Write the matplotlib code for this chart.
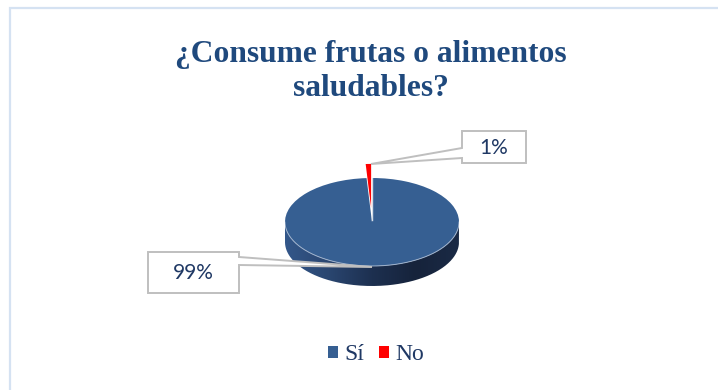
import numpy as np
import matplotlib.pyplot as plt
from matplotlib.patches import Polygon, PathPatch
from matplotlib.path import Path
from matplotlib.colors import LinearSegmentedColormap

# data
labels = ['Sí', 'No']
values = [99, 1]
colors = ['#365f92', '#ff0000']
title_lines = ['¿Consume frutas o alimentos', 'saludables?']

W, H = 718, 390
fig = plt.figure(figsize=(W / 100, H / 100), dpi=100)

# background axes in pixel coords (y down)
bg = fig.add_axes([0, 0, 1, 1])
bg.set_xlim(0, W)
bg.set_ylim(H, 0)
bg.axis('off')
bg.plot([9.5, 9.5, W], [H, 7.5, 7.5], color='#d5e2f2', lw=1.6,
        solid_joinstyle='miter')

# pie axes: ellipse centre (372,222), a=87, b=44, depth 20 px
cx, cy, a, b, dpx = 372, 222, 87, 44, 20
d = dpx / b
pie_ax = fig.add_axes([(cx - a) / W, (H - (cy + b + dpx)) / H,
                       2 * a / W, (2 * b + dpx) / H])
wedges, _ = pie_ax.pie(values, colors=colors, startangle=90,
                       counterclock=False, explode=[0, 0.32],
                       wedgeprops=dict(edgecolor='none', zorder=3))

# side wall of the 3d pie
t = np.linspace(np.pi, 2 * np.pi, 200)
xs = np.concatenate([np.cos(t), np.cos(t[::-1])])
ys = np.concatenate([np.sin(t), np.sin(t[::-1]) - d])
side = PathPatch(Path(np.column_stack([xs, ys])), facecolor='none',
                 edgecolor='none')
pie_ax.add_patch(side)
cmap = LinearSegmentedColormap.from_list(
    'side', ['#33578a', '#2a4670', '#1d3050', '#16233b', '#1a2a45'])
grad = np.linspace(0, 1, 256).reshape(1, -1)
img = pie_ax.imshow(grad, cmap=cmap, extent=(-1, 1, -1 - d, 0),
                    aspect='auto', zorder=1)
img.set_clip_path(side)

# rim highlight and slice gap line
pie_ax.plot(np.cos(t), np.sin(t), color='#9fb2cc', lw=0.7, zorder=4)
pie_ax.plot([0, 0], [0.05, 1], color='white', lw=1, alpha=0.8, zorder=4)

pie_ax.set_aspect('auto')
pie_ax.set_xlim(-1, 1)
pie_ax.set_ylim(-1 - d, 1)
pie_ax.axis('off')

# overlay for callouts, text, legend
ov = fig.add_axes([0, 0, 1, 1])
ov.set_xlim(0, W)
ov.set_ylim(H, 0)
ov.axis('off')
ov.patch.set_alpha(0)

total = sum(values)
pct = [f'{v / total * 100:.0f}%' for v in values]
txt_color = '#1f3864'

# 99% callout
c1 = Polygon([(148, 252), (239, 252), (239, 257), (372, 267),
              (239, 265), (239, 293), (148, 293)], closed=True,
             facecolor='white', edgecolor='#bfbfbf', lw=1.4)
ov.add_patch(c1)
ov.text(193.5, 273, pct[0], ha='center', va='center', fontsize=15,
        family='Lato', color=txt_color)

# 1% callout
c2 = Polygon([(462, 131), (526, 131), (526, 163), (462, 163),
              (462, 158), (371, 164), (462, 148)], closed=True,
             facecolor='white', edgecolor='#bfbfbf', lw=1.4)
ov.add_patch(c2)
ov.text(494, 147.5, pct[1], ha='center', va='center', fontsize=15,
        family='Lato', color=txt_color)

# title
for yb, line in zip([62, 96], title_lines):
    ov.text(371, yb, line, ha='center', va='baseline', fontsize=22.7,
            family='Liberation Serif', fontweight='bold', color='#1f497d')

# legend
leg = ov.legend(wedges, labels, loc='center',
                bbox_to_anchor=(376 / W, 1 - 355 / H),
                ncol=2, frameon=False, handlelength=0.42, handleheight=0.42,
                handletextpad=0.3, columnspacing=0.6,
                prop=dict(family='Liberation Serif', size=17))
for tx in leg.get_texts():
    tx.set_color(txt_color)

fig.savefig('out.png', dpi=100)
